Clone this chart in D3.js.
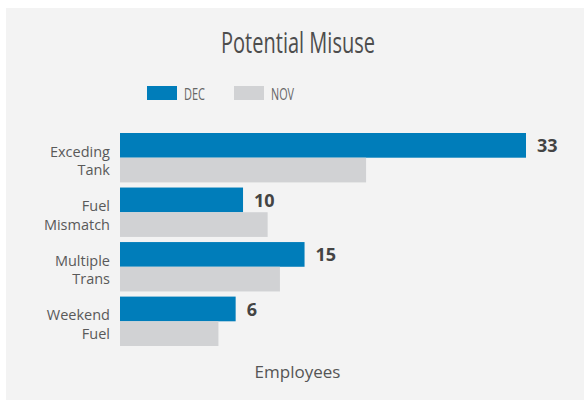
<!DOCTYPE html>
<html>
<head>
<meta charset="utf-8">
<script src="https://cdn.jsdelivr.net/npm/d3@7"></script>
<style>
  body { margin: 0; background: #fff; }
  text { font-family: "Open Sans", sans-serif; }
</style>
</head>
<body>
<div id="chart"></div>
<script>
// Data
const categories = [["Exceding", "Tank"], ["Fuel", "Mismatch"], ["Multiple", "Trans"], ["Weekend", "Fuel"]];
const series = ["DEC", "NOV"];
const decValues = [33, 10, 15, 9.4];
const novValues = [20, 12, 13, 8];
const decLabels = ["33", "10", "15", "6"];

let width = 584, height = 400;

let svg = d3.select('#chart')
    .append('svg')
    .attr('width', width)
    .attr('height', height);

// panel background
svg.append('rect')
    .attr('x', 6)
    .attr('y', 8)
    .attr('width', width - 6)
    .attr('height', height - 8)
    .attr('fill', '#f3f3f3');

const colorScale = d3.scaleOrdinal()
    .domain(series)
    .range(['#007dba', '#d1d2d4']);

// scales
let keys = categories.map(d => d.join(' '));

let yScale = d3.scaleBand()
    .domain(keys)
    .range([133, 346])
    .paddingInner(0.094);

let ySub = d3.scaleBand()
    .domain(series)
    .range([0, yScale.bandwidth()]);

let xScale = d3.scaleLinear()
    .domain([0, 33])
    .range([120, 526]);

// title
svg.append('text')
    .attr('x', 298)
    .attr('y', 52.5)
    .attr('text-anchor', 'middle')
    .attr('textLength', 154)
    .attr('lengthAdjust', 'spacingAndGlyphs')
    .style('font-size', '30px')
    .style('fill', '#4d4d4d')
    .text('Potential Misuse');

// legend
const legendX = [147, 234];
const legend = svg.selectAll('.legend')
    .data(series)
    .enter().append('g')
    .attr('class', 'legend')
    .attr('transform', (d, i) => `translate(${legendX[i]}, 86)`);

legend.append('rect')
    .attr('width', 30)
    .attr('height', 14)
    .attr('fill', d => colorScale(d));

legend.append('text')
    .attr('x', 37)
    .attr('y', 14)
    .attr('textLength', d => d == 'DEC' ? 21 : 23)
    .attr('lengthAdjust', 'spacingAndGlyphs')
    .style('font-size', '17px')
    .style('fill', '#666')
    .text(d => d);

// bars
const rows = keys.map((k, i) => ({ key: k, lines: categories[i], DEC: decValues[i], NOV: novValues[i], label: decLabels[i] }));

const group = svg.selectAll('.group')
    .data(rows)
    .enter().append('g')
    .attr('class', 'group')
    .attr('transform', d => `translate(0, ${yScale(d.key)})`);

group.selectAll('rect')
    .data(d => series.map(s => ({ s: s, v: d[s] })))
    .enter().append('rect')
    .attr('x', xScale(0))
    .attr('y', d => ySub(d.s))
    .attr('width', d => xScale(d.v) - xScale(0))
    .attr('height', ySub.bandwidth())
    .attr('fill', d => colorScale(d.s));

// value labels on DEC bars
group.append('text')
    .attr('x', d => xScale(d.DEC) + 11)
    .attr('y', ySub('DEC') + ySub.bandwidth() / 2 + 7)
    .style('font-size', '18px')
    .style('font-weight', 'bold')
    .style('fill', '#444')
    .text(d => d.label);

// category labels, two lines each
group.append('text')
    .attr('text-anchor', 'end')
    .style('font-size', '14.5px')
    .style('fill', '#595959')
    .selectAll('tspan')
    .data(d => d.lines)
    .enter().append('tspan')
    .attr('x', 110)
    .attr('y', (d, i) => yScale.bandwidth() / 2 - 1 + i * 18.5)
    .text(d => d);

// axis label
svg.append('text')
    .attr('x', 297.5)
    .attr('y', 378)
    .attr('text-anchor', 'middle')
    .style('font-size', '17px')
    .style('fill', '#555')
    .text('Employees');
</script>
</body>
</html>
